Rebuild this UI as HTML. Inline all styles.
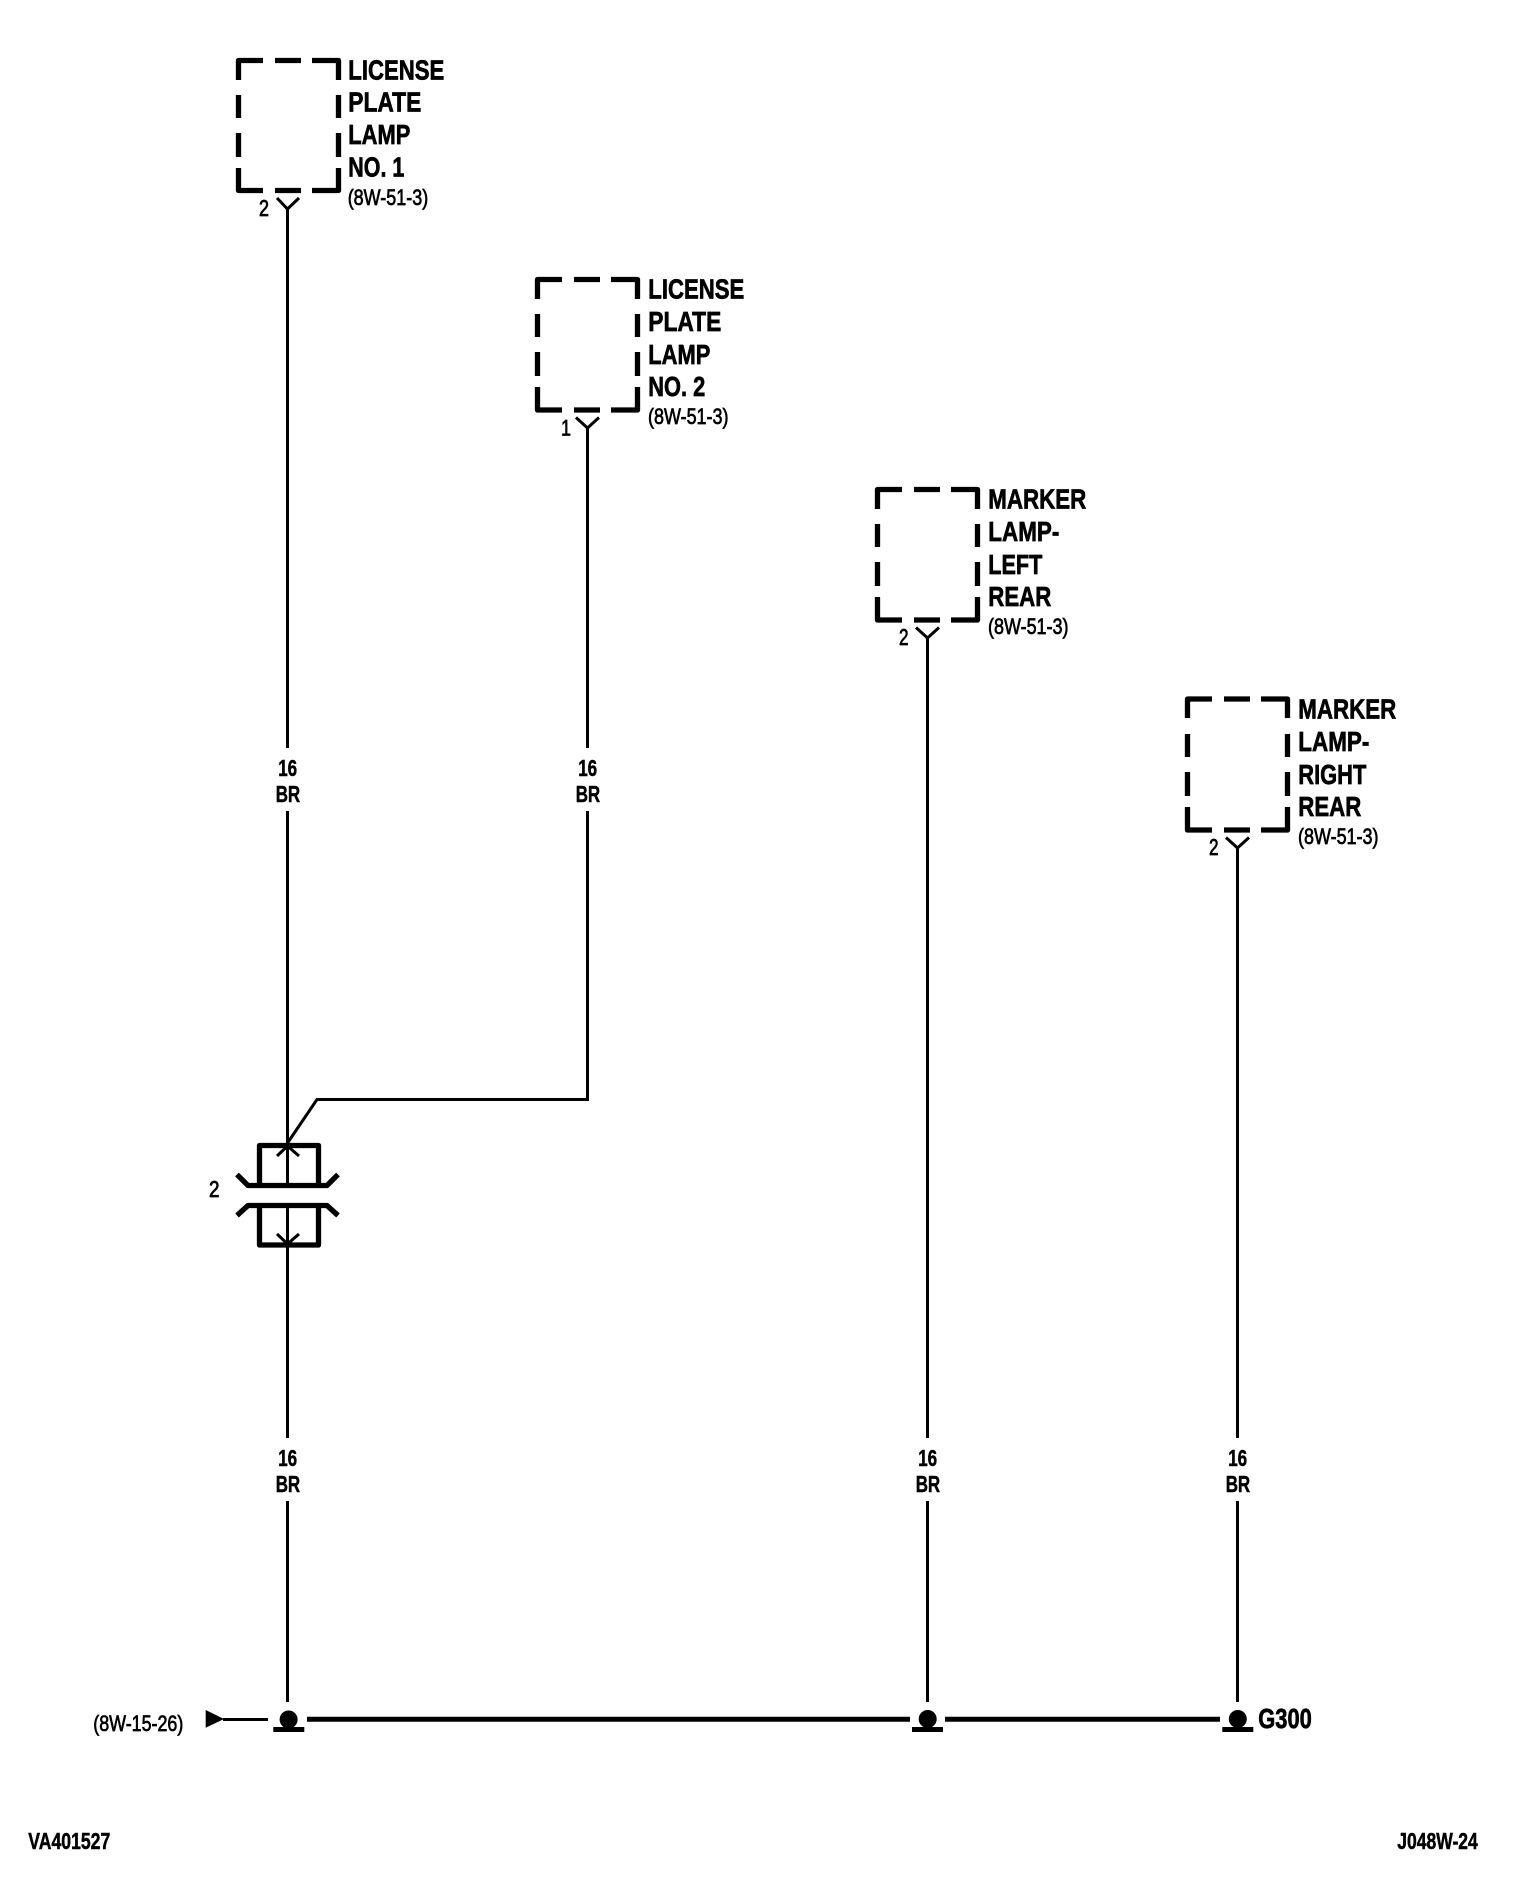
<!DOCTYPE html>
<html><head><meta charset="utf-8"><style>
html,body{margin:0;padding:0;background:#fff}
svg{display:block}
text{font-family:"Liberation Sans",Arial,sans-serif;fill:#000}
.h{font-size:28px;font-weight:bold;stroke:#000;stroke-width:.7}
.s{font-size:22px;stroke:#000;stroke-width:.7}
.w{font-size:23px;font-weight:bold;stroke:#000;stroke-width:.5}
.p{font-size:23px;stroke:#000;stroke-width:.8}
.b{fill:none;stroke:#000;stroke-width:5.3;stroke-linejoin:round}
.l{fill:none;stroke:#000;stroke-width:3}
</style></head><body>
<svg width="1536" height="1894" viewBox="0 0 1536 1894" xmlns="http://www.w3.org/2000/svg">
<rect width="1536" height="1894" fill="#fff"/>

<!-- Box 1 -->
<g transform="translate(236,58)">
<path class="b" d="M2.5 22V2.5H27M39 2.5H65M76 2.5H102.5V22M2.5 37V60M2.5 75V99M2.5 110V132.5H27M39 132.5H65M76 132.5H102.5V110M102.5 37V60M102.5 75V99"/>
<path class="l" d="M41 140L51.5 151L63 140"/>
<text class="h" x="112.3" y="21.3" textLength="96" lengthAdjust="spacingAndGlyphs">LICENSE</text>
<text class="h" x="112.3" y="53.7" textLength="73" lengthAdjust="spacingAndGlyphs">PLATE</text>
<text class="h" x="112.3" y="86" textLength="62" lengthAdjust="spacingAndGlyphs">LAMP</text>
<text class="h" x="112.3" y="118.7" textLength="56" lengthAdjust="spacingAndGlyphs">NO. 1</text>
<text class="s" x="111.7" y="147" textLength="80.5" lengthAdjust="spacingAndGlyphs">(8W-51-3)</text>
<text class="p" x="23" y="158" textLength="10" lengthAdjust="spacingAndGlyphs">2</text>
</g>

<!-- Box 2 -->
<g transform="translate(535,277)">
<path class="b" d="M2.5 22V2.5H27M39 2.5H65M76 2.5H102.5V22M2.5 37V60M2.5 75V99M2.5 110V133H27M39 133H65M76 133H102.5V110M102.5 37V60M102.5 75V99"/>
<path class="l" d="M41 140.5L52.5 151L64 140.5"/>
<text class="h" x="113.3" y="21.3" textLength="96" lengthAdjust="spacingAndGlyphs">LICENSE</text>
<text class="h" x="113.3" y="54" textLength="73" lengthAdjust="spacingAndGlyphs">PLATE</text>
<text class="h" x="113.3" y="87" textLength="62" lengthAdjust="spacingAndGlyphs">LAMP</text>
<text class="h" x="113.3" y="119" textLength="57" lengthAdjust="spacingAndGlyphs">NO. 2</text>
<text class="s" x="113" y="147" textLength="80.5" lengthAdjust="spacingAndGlyphs">(8W-51-3)</text>
<text class="s" x="26" y="158.5" font-size="23" textLength="10" lengthAdjust="spacingAndGlyphs">1</text>
</g>

<!-- Box 3 -->
<g transform="translate(875,487)">
<path class="b" d="M2.5 22V2.5H27M39 2.5H65M76 2.5H102.5V22M2.5 37V60M2.5 75V99M2.5 110V133H27M39 133H65M76 133H102.5V110M102.5 37V60M102.5 75V99"/>
<path class="l" d="M41 140.5L52.5 151L64 140.5"/>
<text class="h" x="113.3" y="21.3" textLength="98" lengthAdjust="spacingAndGlyphs">MARKER</text>
<text class="h" x="113.3" y="54" textLength="71" lengthAdjust="spacingAndGlyphs">LAMP-</text>
<text class="h" x="113.3" y="87" textLength="54" lengthAdjust="spacingAndGlyphs">LEFT</text>
<text class="h" x="113.3" y="119" textLength="63" lengthAdjust="spacingAndGlyphs">REAR</text>
<text class="s" x="113" y="147" textLength="80.5" lengthAdjust="spacingAndGlyphs">(8W-51-3)</text>
<text class="p" x="24" y="158" textLength="9.5" lengthAdjust="spacingAndGlyphs">2</text>
</g>

<!-- Box 4 -->
<g transform="translate(1185,697)">
<path class="b" d="M2.5 21V2H27M39 2H65M76 2H102.5V21M2.5 37V60M2.5 75V99M2.5 110V133H27M39 133H65M76 133H102.5V110M102.5 37V60M102.5 75V99"/>
<path class="l" d="M41 140.5L52.5 151L64 140.5"/>
<text class="h" x="113.3" y="21.3" textLength="98" lengthAdjust="spacingAndGlyphs">MARKER</text>
<text class="h" x="113.3" y="54" textLength="71" lengthAdjust="spacingAndGlyphs">LAMP-</text>
<text class="h" x="113.3" y="87" textLength="68" lengthAdjust="spacingAndGlyphs">RIGHT</text>
<text class="h" x="113.3" y="119" textLength="63" lengthAdjust="spacingAndGlyphs">REAR</text>
<text class="s" x="113" y="147" textLength="80.5" lengthAdjust="spacingAndGlyphs">(8W-51-3)</text>
<text class="p" x="24" y="158" textLength="9.5" lengthAdjust="spacingAndGlyphs">2</text>
</g>

<!-- Wires -->
<path class="l" d="M287.5 208V748M287.5 811V1185M287.5 1208V1438M287.5 1501V1702"/>
<path class="l" d="M587.5 427V748M587.5 811V1099.5H317L287.5 1143"/>
<path class="l" d="M927.5 637V1438M927.5 1501V1702"/>
<path class="l" d="M1237.5 847V1438M1237.5 1501V1702"/>

<!-- Wire labels -->
<g>
<text class="w" x="278.2" y="776" textLength="19" lengthAdjust="spacingAndGlyphs">16</text>
<text class="w" x="275.7" y="802" textLength="24.5" lengthAdjust="spacingAndGlyphs">BR</text>
<text class="w" x="578.2" y="776" textLength="19" lengthAdjust="spacingAndGlyphs">16</text>
<text class="w" x="575.7" y="802" textLength="24.5" lengthAdjust="spacingAndGlyphs">BR</text>
<text class="w" x="278.2" y="1466" textLength="19" lengthAdjust="spacingAndGlyphs">16</text>
<text class="w" x="275.7" y="1492" textLength="24.5" lengthAdjust="spacingAndGlyphs">BR</text>
<text class="w" x="918.2" y="1466" textLength="19" lengthAdjust="spacingAndGlyphs">16</text>
<text class="w" x="915.7" y="1492" textLength="24.5" lengthAdjust="spacingAndGlyphs">BR</text>
<text class="w" x="1228.2" y="1466" textLength="19" lengthAdjust="spacingAndGlyphs">16</text>
<text class="w" x="1225.7" y="1492" textLength="24.5" lengthAdjust="spacingAndGlyphs">BR</text>
</g>

<!-- Connector -->
<path class="b" d="M259.5 1185V1145.5H318.5V1185"/>
<path class="b" d="M259.5 1206V1245H318.5V1206"/>
<path class="b" d="M237 1174.5L248 1185.5H327L338 1174.5"/>
<path class="b" d="M237 1215.5L248 1205.5H327L338 1215.5"/>
<path class="l" d="M277 1156L287.5 1146L299 1156"/>
<path class="l" d="M277 1234L287.5 1244L299 1234"/>
<text class="p" x="209" y="1197" font-size="22" textLength="10.5" lengthAdjust="spacingAndGlyphs">2</text>

<!-- Ground bus -->
<path d="M307 1719.2H910M945 1719.2H1220" fill="none" stroke="#000" stroke-width="5"/>
<path class="l" d="M223 1719.5H268"/>
<polygon points="205.7,1710 205.7,1727.7 224,1719"/>
<circle cx="288.6" cy="1719.5" r="9"/>
<rect x="273.3" y="1727" width="31" height="5"/>
<circle cx="927.7" cy="1719" r="9"/>
<rect x="912" y="1727" width="31" height="5"/>
<circle cx="1237.8" cy="1719" r="9"/>
<rect x="1222.3" y="1727" width="31" height="5"/>

<text class="s" x="93.3" y="1731" textLength="90" lengthAdjust="spacingAndGlyphs">(8W-15-26)</text>
<text class="h" x="1258.3" y="1728" font-size="29" textLength="53.5" lengthAdjust="spacingAndGlyphs">G300</text>
<text class="w" x="28.3" y="1849" font-size="22" textLength="82" lengthAdjust="spacingAndGlyphs">VA401527</text>
<text class="w" x="1397.3" y="1849" font-size="22" textLength="80.5" lengthAdjust="spacingAndGlyphs">J048W-24</text>
</svg>
</body></html>
